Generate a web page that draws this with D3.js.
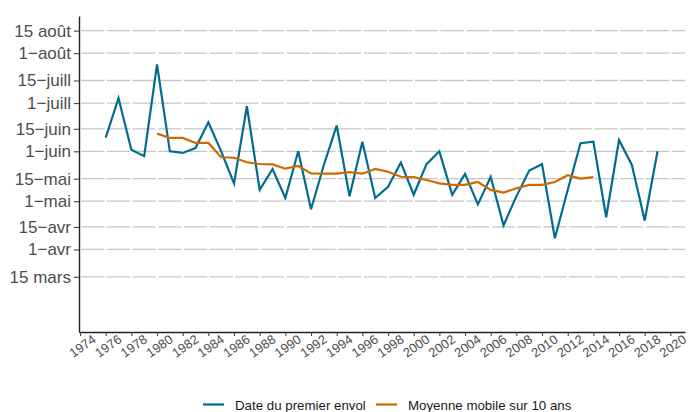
<!DOCTYPE html>
<html><head><meta charset="utf-8">
<script src="https://cdn.jsdelivr.net/npm/d3@7"></script>
<style>body{margin:0;background:#fff} svg text{font-family:"Liberation Sans",Arial,Helvetica,sans-serif}</style>
</head><body><svg id="c" width="688" height="412"></svg>
<script>
// Date du premier envol, as day of year
const flightYears = [1976,1977,1978,1979,1980,1981,1982,1983,1984,1985,1986,1987,1988,1989,1990,1991,1992,1993,1994,1995,1996,1997,1998,1999,2000,2001,2002,2003,2004,2005,2006,2007,2008,2009,2010,2011,2012,2013,2014,2015,2016,2017,2018,2019];
const flightDays  = [160.5,185,153,149,206,152,151,154,170,152,132,180,128,141,123,152,116,143.5,168,124,158,123,130,145,125,144,152,125,138,119,136,106,124,140,144,98,128,157,158,111,159,143.5,109,152];
// Moyenne mobile sur 10 ans
const avgYears = [1980,1981,1982,1983,1984,1985,1986,1987,1988,1989,1990,1991,1992,1993,1994,1995,1996,1997,1998,1999,2000,2001,2002,2003,2004,2005,2006,2007,2008,2009,2010,2011,2012,2013,2014];
const avgDays  = [163,160.3,160.3,157.2,157.2,148.3,148,145.2,144.1,143.9,141.2,142.9,138.2,138.1,138.1,139,138.1,141,139.3,136.2,136,134.2,132.1,131.1,131.1,132.9,128,126.3,129,131.1,131.1,132.9,137.1,135,136];

const yTickDays   = [74,91,105,121,135,152,166,182,196,213,227];
const yTickLabels = ["15 mars","1\u2212avr","15\u2212avr","1\u2212mai","15\u2212mai","1\u2212juin","15\u2212juin","1\u2212juill","15\u2212juill","1\u2212ao\u00fbt","15 ao\u00fbt"];
const xTickYears  = [1974,1976,1978,1980,1982,1984,1986,1988,1990,1992,1994,1996,1998,2000,2002,2004,2006,2008,2010,2012,2014,2016,2018,2020];
const seriesNames  = ["Date du premier envol","Moyenne mobile sur 10 ans"];
const seriesColors = ["#006d8f","#d06a00"];

const svg = d3.select("#c");
const x = d3.scaleLinear().domain([1973.92, 2021.14]).range([79, 685]);
const y = d3.scaleLinear().domain([39.7, 236.1]).range([332, 16]);

// grid
svg.append("g").selectAll("line").data(yTickDays).join("line")
  .attr("x1", 79).attr("x2", 685)
  .attr("y1", d => y(d)).attr("y2", d => y(d))
  .attr("stroke", "#c6c6c6").attr("stroke-width", 1.3);
svg.append("g").selectAll("line").data(xTickYears).join("line")
  .attr("x1", d => x(d)).attr("x2", d => x(d))
  .attr("y1", 16).attr("y2", 332)
  .attr("stroke", "#fff").attr("stroke-width", 2.3);

// series
const flight = flightYears.map((yr, i) => ({year: yr, day: flightDays[i]}));
const avg = avgYears.map((yr, i) => ({year: yr, day: avgDays[i]}));
const line = d3.line().x(d => x(d.year)).y(d => y(d.day));
svg.append("path").datum(flight).attr("d", line)
  .attr("fill", "none").attr("stroke", seriesColors[0]).attr("stroke-width", 2.2);
svg.append("path").datum(avg).attr("d", line)
  .attr("fill", "none").attr("stroke", seriesColors[1]).attr("stroke-width", 2.2);

// axes
const ya = svg.append("g").attr("transform", "translate(79,0)")
  .call(d3.axisLeft(y).tickValues(yTickDays).tickFormat((d, i) => yTickLabels[i]).tickSize(5).tickSizeOuter(0).tickPadding(3));
ya.select(".domain").attr("stroke", "#222").attr("stroke-width", 1.4);
ya.selectAll(".tick line").attr("stroke", "#444").attr("stroke-width", 1.1);
ya.selectAll(".tick text").attr("font-size", 17).attr("fill", "#4d4d4d");

const xa = svg.append("g").attr("transform", "translate(0,332)")
  .call(d3.axisBottom(x).tickValues(xTickYears).tickFormat(d3.format("d")).tickSize(4).tickSizeOuter(0));
xa.select(".domain").attr("stroke", "#222").attr("stroke-width", 1.4);
xa.selectAll(".tick line").attr("stroke", "#444").attr("stroke-width", 1.1);
xa.selectAll(".tick text").attr("font-size", 13).attr("fill", "#4d4d4d")
  .attr("y", 0).attr("dy", 0).attr("text-anchor", "middle").attr("dominant-baseline", "central")
  .attr("transform", "translate(2,14) rotate(-35)");

// legend
const legX = [203, 376];
const leg = svg.append("g");
seriesNames.forEach((name, i) => {
  leg.append("line").attr("x1", legX[i]).attr("x2", legX[i] + 21).attr("y1", 404.5).attr("y2", 404.5)
    .attr("stroke", seriesColors[i]).attr("stroke-width", 2.2);
  leg.append("text").attr("x", legX[i] + 32).attr("y", 409.5).attr("font-size", 13.3).attr("fill", "#1a1a1a").text(name);
});
</script></body></html>
